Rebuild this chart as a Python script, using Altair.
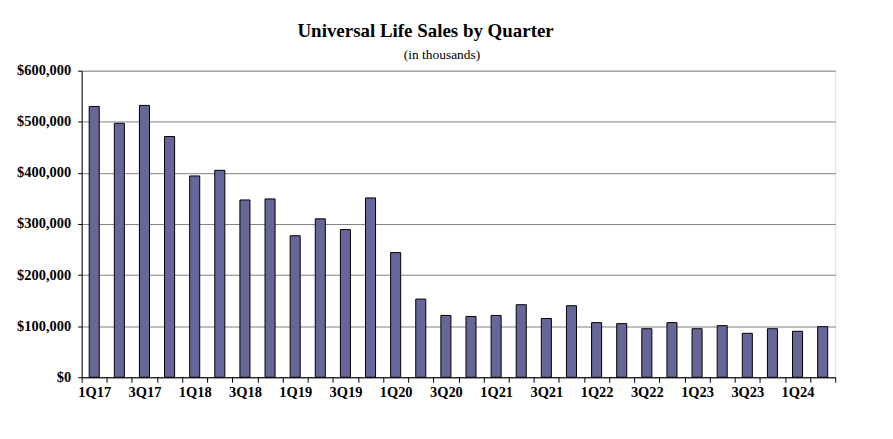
import altair as alt
import pandas as pd

quarters = ["1Q17", "2Q17", "3Q17", "4Q17", "1Q18", "2Q18", "3Q18", "4Q18",
            "1Q19", "2Q19", "3Q19", "4Q19", "1Q20", "2Q20", "3Q20", "4Q20",
            "1Q21", "2Q21", "3Q21", "4Q21", "1Q22", "2Q22", "3Q22", "4Q22",
            "1Q23", "2Q23", "3Q23", "4Q23", "1Q24", "2Q24"]
sales = [530000, 497000, 532000, 471000, 394000, 405000, 347000, 349000,
         277000, 310000, 289000, 351000, 244000, 153000, 121000, 119000,
         121000, 142000, 115000, 140000, 107000, 105000, 95000, 107000,
         95000, 101000, 86000, 95000, 90000, 99000]

title_text = "Universal Life Sales by Quarter"
subtitle_text = "(in thousands)"
y_ticks = [0, 100000, 200000, 300000, 400000, 500000, 600000]

df = pd.DataFrame({"quarter": quarters, "sales": sales})
FONT = "Liberation Serif"

W, H = 757, 308

bars = alt.Chart(df).mark_bar(
    width=alt.RelativeBandSize(0.4), color="#666699", stroke="black", strokeWidth=1
).encode(
    x=alt.X("quarter:N", sort=quarters, title=None,
            scale=alt.Scale(paddingInner=0, paddingOuter=0),
            axis=alt.Axis(
                labelAngle=0, tickBand="extent", ticks=True, tickSize=5,
                tickColor="black", domainColor="black", grid=False,
                labelFont=FONT, labelFontSize=14.5, labelFontWeight="bold",
                labelColor="black", labelPadding=3, labelOverlap=False,
                labelExpr="(substring(datum.value,0,1)=='1' || substring(datum.value,0,1)=='3') ? datum.value : ''",
            )),
    y=alt.Y("sales:Q", title=None,
            scale=alt.Scale(domain=[0, 600000], nice=False),
            axis=alt.Axis(
                values=y_ticks, format="$,.0f", tickSize=4, tickColor="black",
                domainColor="black", grid=True, gridColor="#808080", gridWidth=1,
                labelFont=FONT, labelFontSize=14.5, labelFontWeight="bold",
                labelColor="black", labelPadding=7,
            )),
)

sub = alt.Chart(pd.DataFrame({"t": [subtitle_text]})).mark_text(
    font=FONT, fontSize=13.5, color="black", align="center", baseline="alphabetic"
).encode(text="t:N", x=alt.value(362), y=alt.value(-12))

chart = alt.layer(bars, sub).properties(
    width=W, height=H,
    title=alt.TitleParams(
        text=title_text, font=FONT, fontSize=19, fontWeight="bold", color="black",
        anchor="middle", frame="group", dx=-33, offset=-8, baseline="alphabetic",
    ),
    autosize=alt.AutoSizeParams(type="none"),
    padding={"left": 74, "top": 62, "right": 50, "bottom": 50},
).configure_view(stroke=None).configure(background="white")

chart.save("out.html", embed_options={"renderer": "svg", "actions": False})
